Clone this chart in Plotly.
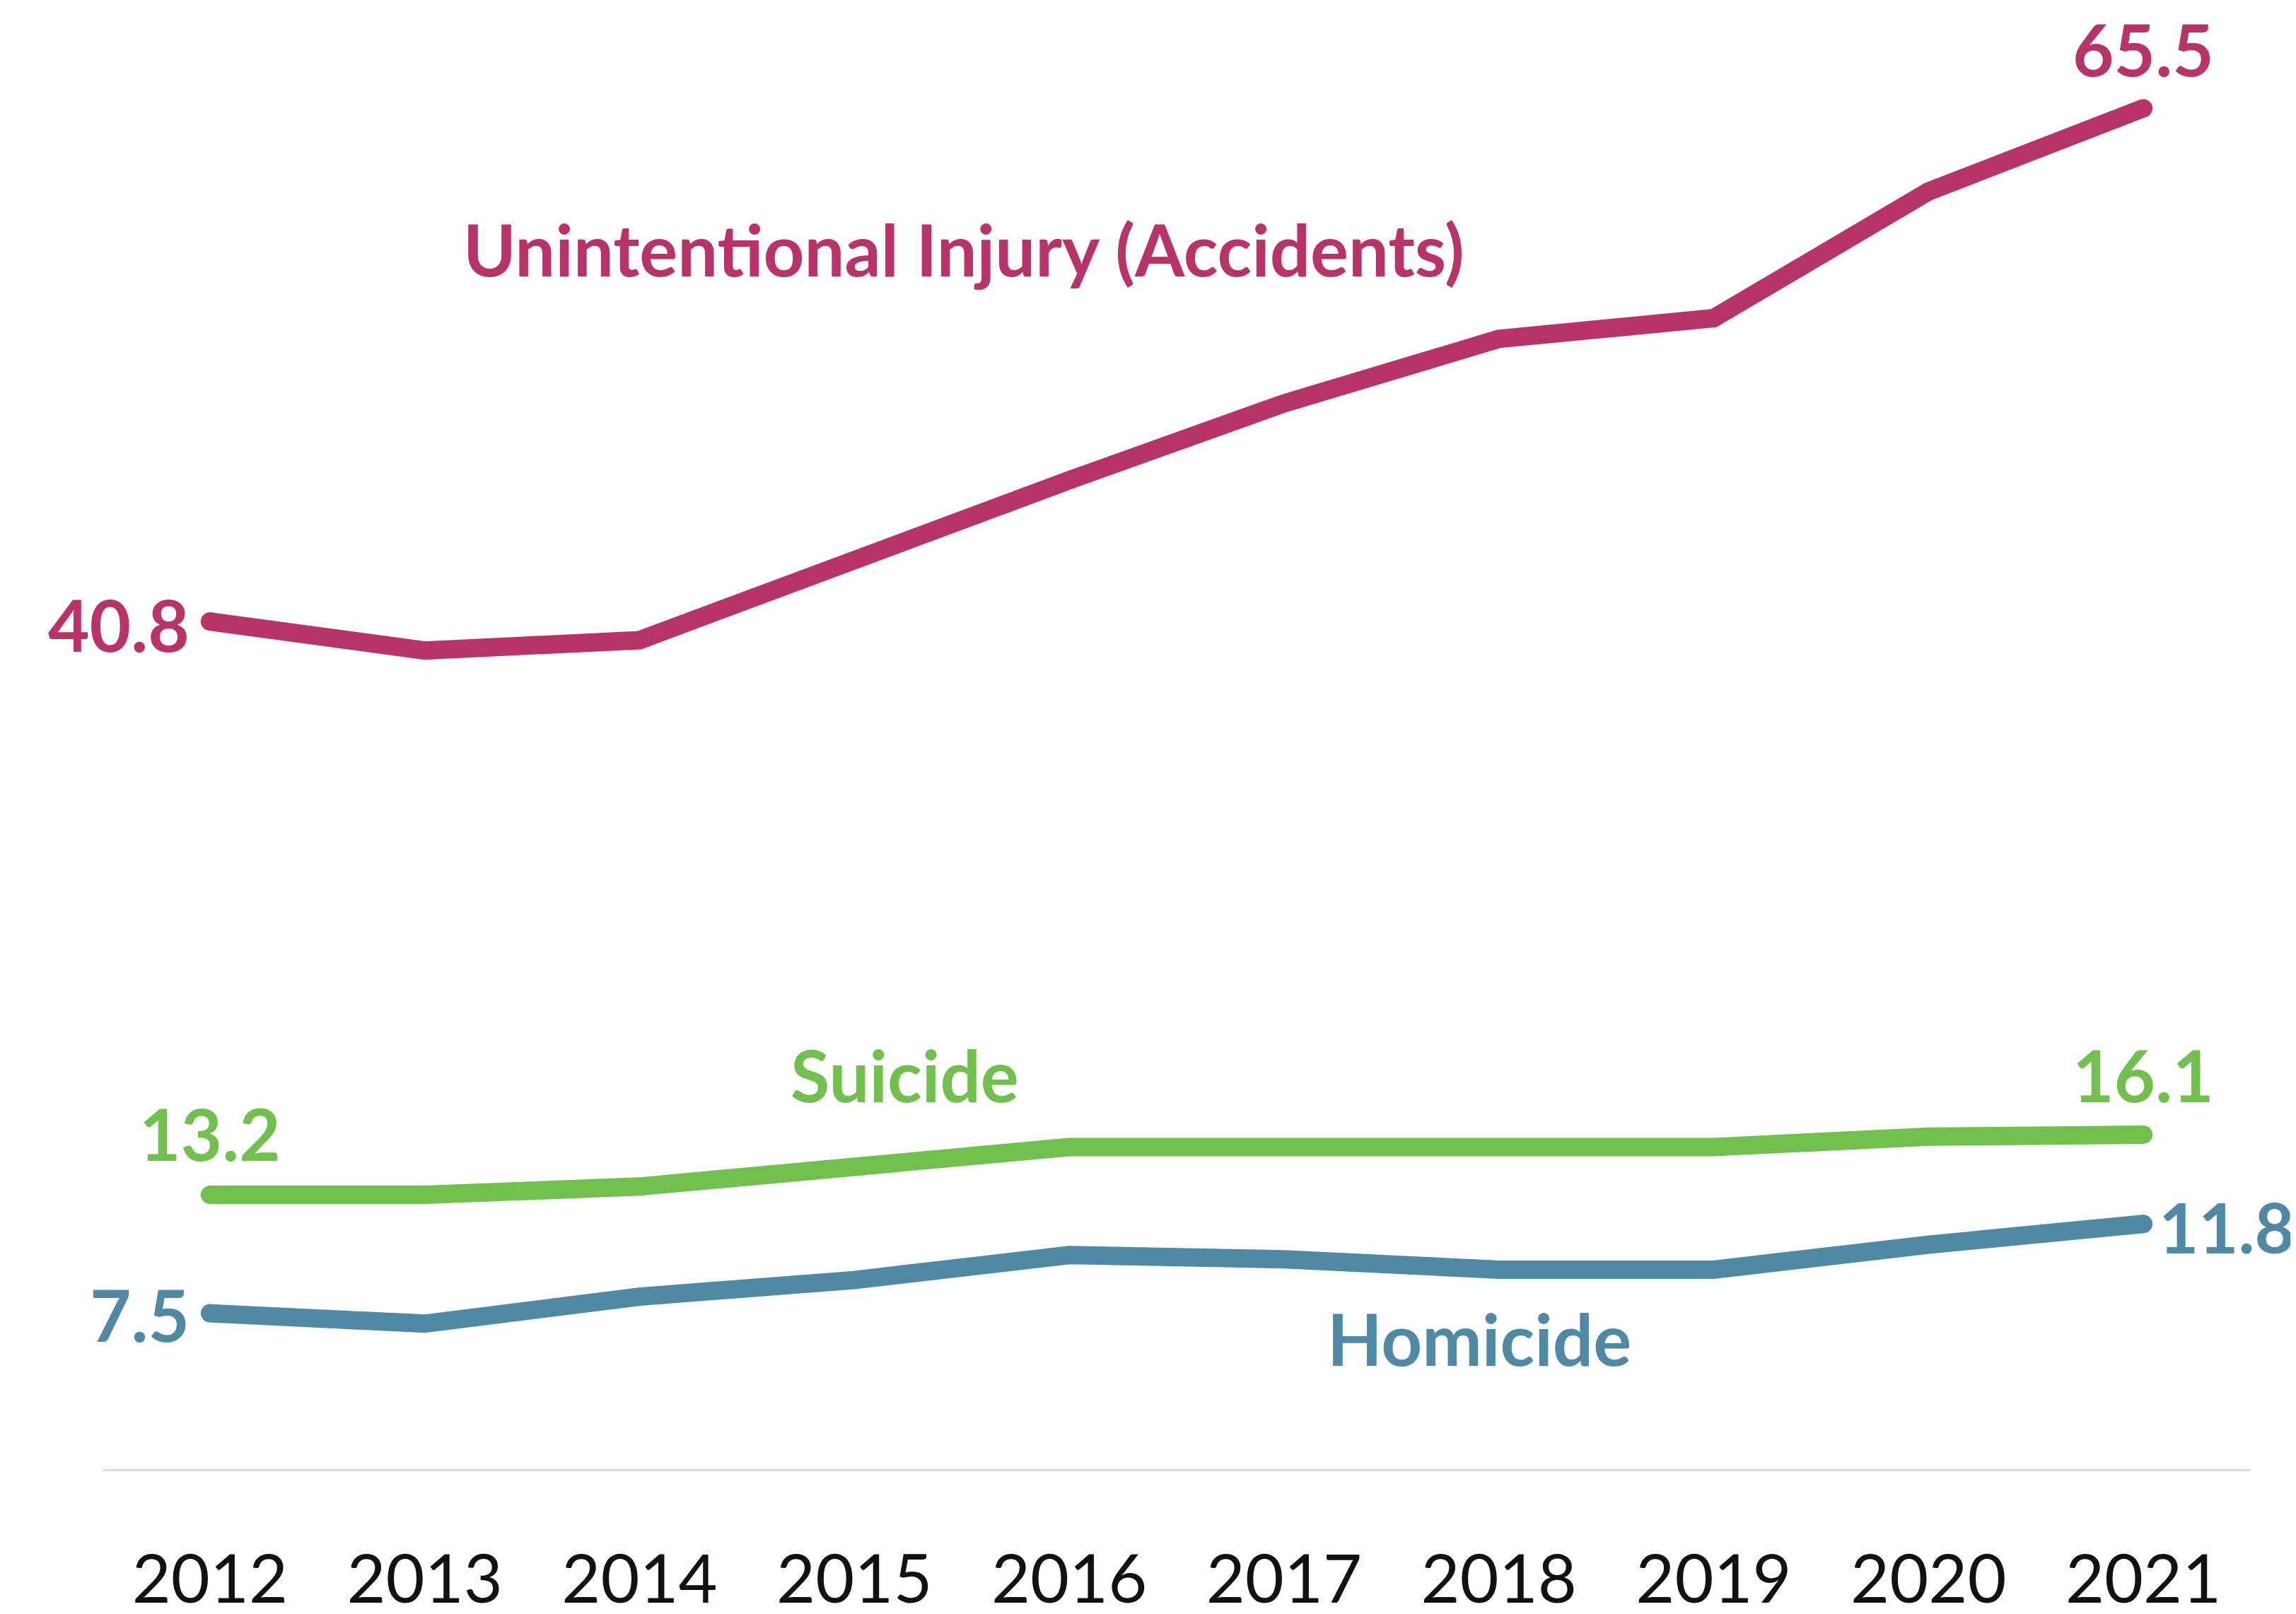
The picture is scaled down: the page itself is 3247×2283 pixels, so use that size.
import plotly.graph_objects as go

years = [2012, 2013, 2014, 2015, 2016, 2017, 2018, 2019, 2020, 2021]
year_labels = [str(y) for y in years]
unintentional = [40.8, 39.4, 39.9, 43.8, 47.6, 51.3, 54.4, 55.4, 61.5, 65.5]
suicide = [13.2, 13.2, 13.6, 14.6, 15.5, 15.5, 15.4, 15.5, 16.0, 16.1]
homicide = [7.5, 7.0, 8.3, 9.1, 10.3, 10.1, 9.6, 9.6, 10.8, 11.8]

series_names = ["Unintentional Injury (Accidents)", "Suicide", "Homicide"]
C_UN = "#B83369"
C_SU = "#71BF4C"
C_HO = "#4F89A3"

FONT = "Lato"
LW = 26

fig = go.Figure()
for vals, col, name in [(unintentional, C_UN, series_names[0]),
                        (suicide, C_SU, series_names[1]),
                        (homicide, C_HO, series_names[2])]:
    fig.add_trace(go.Scatter(
        x=years, y=vals, mode="lines", name=name,
        line=dict(color=col, width=LW),
        showlegend=False, hoverinfo="skip",
    ))
    # round end caps
    fig.add_trace(go.Scatter(
        x=[years[0], years[-1]], y=[vals[0], vals[-1]], mode="markers",
        marker=dict(color=col, size=LW, opacity=1, line=dict(width=0)),
        showlegend=False, hoverinfo="skip",
    ))

ann = []
lab_font = lambda c, s=101: dict(family=FONT, size=s, color=c, weight="bold")

# end value labels
ann.append(dict(x=years[0], y=unintentional[0], text=f"{unintentional[0]}", xanchor="right",
                yanchor="middle", xshift=-27, yshift=-4, showarrow=False, font=lab_font(C_UN)))
ann.append(dict(x=years[-1], y=unintentional[-1], text=f"{unintentional[-1]}", xanchor="center",
                yanchor="middle", yshift=84, showarrow=False, font=lab_font(C_UN)))
ann.append(dict(x=years[0], y=suicide[0], text=f"{suicide[0]}", xanchor="center",
                yanchor="middle", yshift=87, showarrow=False, font=lab_font(C_SU)))
ann.append(dict(x=years[-1], y=suicide[-1], text=f"{suicide[-1]}", xanchor="center",
                yanchor="middle", yshift=85, showarrow=False, font=lab_font(C_SU)))
ann.append(dict(x=years[0], y=homicide[0], text=f"{homicide[0]}", xanchor="right",
                yanchor="middle", xshift=-27, yshift=-1, showarrow=False, font=lab_font(C_HO)))
ann.append(dict(x=years[-1], y=homicide[-1], text=f"{homicide[-1]}", xanchor="left",
                yanchor="middle", xshift=20, yshift=-4, showarrow=False, font=lab_font(C_HO, 97)))

# series name labels
ann.append(dict(xref="paper", yref="paper", x=0.4010, y=0.8390, text=series_names[0],
                xanchor="center", yanchor="middle", showarrow=False, font=lab_font(C_UN)))
ann.append(dict(xref="paper", yref="paper", x=0.3736, y=0.2713, text=series_names[1],
                xanchor="center", yanchor="middle", showarrow=False, font=lab_font(C_SU)))
ann.append(dict(xref="paper", yref="paper", x=0.6410, y=0.0900, text=series_names[2],
                xanchor="center", yanchor="middle", showarrow=False, font=lab_font(C_HO)))

fig.update_layout(
    width=3247, height=2283,
    margin=dict(l=137, r=72, t=13, b=213, autoexpand=False),
    paper_bgcolor="white", plot_bgcolor="white",
    annotations=ann,
    xaxis=dict(range=[2011.5, 2021.5], tickvals=years, ticktext=year_labels,
               showgrid=False, zeroline=False, showline=True, linecolor="#DDDDDD", linewidth=3,
               ticks="outside", ticklen=72, tickcolor="rgba(0,0,0,0)", automargin=False,
               tickfont=dict(family=FONT, size=95, color="#111111")),
    yaxis=dict(range=[0, 70], showgrid=False, zeroline=False, showticklabels=False,
               showline=False, automargin=False),
)

fig.write_html("out.html")
